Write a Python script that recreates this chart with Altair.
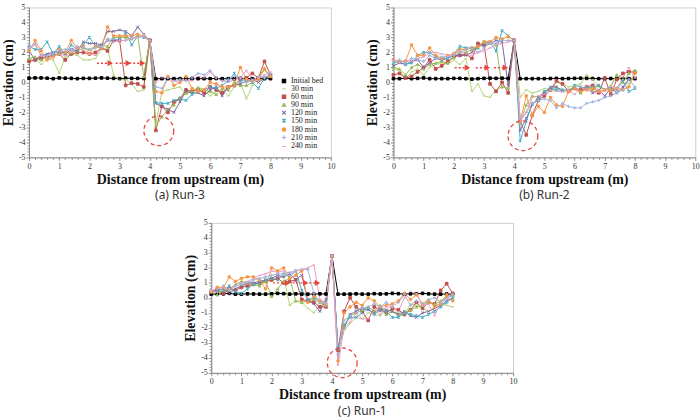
import altair as alt
import pandas as pd

# Survey stations along the flume (m)
STATIONS = [0.0, 0.2, 0.4, 0.6, 0.8, 1.0, 1.2, 1.4, 1.6, 1.8,
            2.0, 2.2, 2.4, 2.6, 2.8, 3.0, 3.2, 3.4, 3.6, 3.8,
            4.0,
            4.2, 4.4, 4.6, 4.8, 5.0, 5.2, 5.4, 5.6, 5.8, 6.0,
            6.2, 6.4, 6.6, 6.8, 7.0, 7.2, 7.4, 7.6, 7.8, 8.0]

SERIES = ["Initial bed", "30 min", "60 min", "90 min", "120 min",
          "150 min", "180 min", "210 min", "240 min"]
COLORS = ["#000000", "#B3D57A", "#C0504D", "#9BBB59", "#8064A2",
          "#4BACC6", "#F79646", "#9FB4DF", "#EC9CC3"]
SHAPES = ["square", "stroke", "square", "triangle-up",
          "M-1,-1L1,1M-1,1L1,-1",
          "M-1,-1L1,1M-1,1L1,-1M0,-1.2L0,1.2",
          "circle", "M-1.2,0L1.2,0M0,-1.2L0,1.2", "stroke"]

# ---- Run-3 bed profiles (cm) ----
RUN3_INIT = [0.28, 0.3, 0.3, 0.28, 0.25, 0.3, 0.28, 0.27, 0.25, 0.27,
             0.27, 0.28, 0.3, 0.28, 0.27, 0.25, 0.28, 0.27, 0.27, 0.26,
             2.8,
             0.25, 0.25, 0.25, 0.25, 0.25, 0.25, 0.26, 0.25, 0.25, 0.25,
             0.26, 0.25, 0.25, 0.25, 0.27, 0.26, 0.25, 0.25, 0.25, 0.25]
RUN3_30 = [1.5, 1.6, 1.2, 1.6, 1.5, 0.6, 1.7, 1.9, 1.8, 1.5,
           1.5, 1.6, 2.2, 2.3, 0.5, 0.15, 0.2, -0.1, -0.6, -0.5,
           2.8,
           -2.8, -0.6, -0.5, -0.4, -0.3, -0.8, -0.6, -0.3, -0.5, -0.9,
           -0.6, -0.5, -0.9, -0.3, 0.0, -1.1, -0.2, 0.4, 0.8, 0.4]
RUN3_60 = [1.4, 1.5, 1.6, 1.7, 1.8, 1.9, 1.5, 1.9, 2.0, 2.0,
           1.9, 2.0, 2.3, 2.1, 2.8, 2.8, -0.2, -0.05, -0.1, -0.3,
           2.8,
           -3.2, -1.6, -2.0, -1.3, -1.1, -0.5, -0.6, -0.5, -0.7, -0.3,
           -0.5, -0.7, -0.3, -0.2, 0.2, 0.3, 0.6, 0.3, 1.4, 0.5]
RUN3_90 = [1.6, 1.7, 1.5, 1.7, 1.8, 1.9, 2.0, 2.0, 2.1, 2.3,
           2.2, 2.4, 2.5, 2.4, 3.0, 3.0, 3.0, 2.9, 3.1, 0.4,
           2.8,
           -2.9, -2.3, -1.8, -1.5, -1.0, -0.7, -0.6, -0.4, -0.5, -0.6,
           -0.8, -0.4, -0.5, 0.0, -0.2, -0.2, 0.0, 0.4, 0.9, 0.4]
RUN3_120 = [2.1, 1.5, 1.8, 1.9, 2.0, 2.1, 1.9, 2.2, 2.1, 2.7,
            2.6, 2.6, 2.5, 3.4, 3.4, 3.5, 3.4, 3.1, 3.7, 3.2,
            2.8,
            -1.4, -1.6, -1.8, -2.0, -1.3, -0.6, -0.7, -0.7, -0.9, -0.5,
            -0.3, -0.9, -0.3, -0.2, -0.1, 0.1, 0.2, 0.0, 0.3, 0.4]
RUN3_150 = [2.4, 2.2, 2.2, 2.7, 1.9, 2.4, 1.9, 2.5, 2.2, 2.5,
            3.0, 2.4, 2.4, 2.8, 2.8, 2.9, 3.3, 2.5, 3.1, 3.0,
            2.8,
            -1.35, -1.4, -1.4, -1.2, -1.1, -1.2, -0.8, -0.6, -0.5, -0.3,
            -0.4, -0.2, 0.1, 0.6, 0.1, 0.2, 0.0, -0.4, 0.3, 0.5]
RUN3_180 = [2.1, 2.8, 2.1, 1.5, 1.7, 2.2, 2.0, 2.8, 2.3, 2.4,
            1.9, 2.4, 2.3, 3.7, 3.1, 3.1, 3.1, 3.1, 3.2, 3.1,
            2.8,
            -0.6, -0.7, 0.4, -0.2, 0.0, 0.4, -0.4, -0.6, -0.5, 0.0,
            -0.1, -0.3, -0.3, -0.2, 1.0, 0.2, 0.1, 0.2, 0.9, 0.4]
RUN3_210 = [2.3, 2.6, 1.8, 1.8, 1.9, 2.1, 2.2, 2.2, 2.4, 2.3,
            2.2, 2.3, 2.4, 2.9, 2.9, 2.8, 2.8, 3.0, 3.0, 3.1,
            2.8,
            -0.3, -0.4, 0.3, 0.1, 0.2, 0.1, 0.3, 0.6, 0.5, 0.8,
            0.3, 0.1, 0.2, 0.4, 0.3, 0.0, 0.1, 0.4, 0.3, 0.6]
RUN3_240 = [2.3, 2.5, 1.8, 1.6, 1.7, 1.9, 1.8, 2.0, 2.3, 2.1,
            1.9, 1.8, 2.3, 2.8, 2.7, 2.8, 2.8, 2.9, 3.0, 3.1,
            2.8,
            0.0, 0.3, 0.3, 0.1, 0.0, 0.2, 0.1, 0.4, 0.3, 0.7,
            0.3, 0.1, 0.0, 0.2, 0.3, 0.8, 0.2, 0.3, 0.5, 0.7]

# ---- Run-2 bed profiles (cm) ----
RUN2_INIT = [0.25, 0.25, 0.28, 0.25, 0.27, 0.3, 0.25, 0.25, 0.25, 0.25,
             0.27, 0.27, 0.25, 0.22, 0.25, 0.27, 0.28, 0.27, 0.28, 0.26,
             2.8,
             0.25, 0.25, 0.25, 0.25, 0.25, 0.26, 0.27, 0.25, 0.26, 0.27,
             0.28, 0.27, 0.26, 0.25, 0.25, 0.26, 0.25, 0.25, 0.25, 0.25]
RUN2_30 = [0.9, 0.8, 0.2, 0.7, 0.9, 0.5, 1.0, 1.2, 1.3, 1.2,
           1.5, 1.2, 1.6, -0.6, -0.1, -0.9, -1.0, -0.5, -0.3, -0.4,
           2.8,
           -1.0, -0.5, -0.7, -0.6, -0.4, -0.5, 0.0, -0.1, -0.3, -0.2,
           -0.1, 0.5, 0.2, -0.3, -0.5, -0.2, 0.5, 0.2, -0.1, 0.7]
RUN2_60 = [0.5, 0.6, 0.3, 0.4, 0.7, 1.0, 1.5, 0.9, 1.1, 1.4,
           1.7, 1.8, 1.9, 1.6, 2.6, 2.5, -0.1, -0.6, 0.0, -0.7,
           2.8,
           -2.6, -3.5, -2.2, -1.2, -0.9, -0.5, 0.1, -0.1, -0.6, -0.4,
           -0.5, -0.3, -0.2, -0.7, 0.3, -0.8, 0.2, 0.6, 0.7, 0.7]
RUN2_90 = [1.0, 0.9, 0.5, 1.0, 1.2, 0.9, 1.2, 1.3, 1.4, 1.3,
           1.7, 2.0, 2.0, 2.2, 2.3, 2.6, 2.7, 2.5, -0.3, -0.4,
           2.8,
           -2.7, -1.5, -0.9, -1.0, -0.6, -0.5, -0.3, -0.5, -0.5, -0.4,
           -0.7, -0.3, -0.5, -0.2, -0.5, -0.3, 0.5, 0.0, 0.6, 0.8]
RUN2_120 = [1.1, 1.3, 1.2, 1.4, 1.5, 1.0, 1.3, 1.6, 1.5, 1.6,
            1.8, 1.8, 1.8, 2.0, 2.5, 2.5, 2.6, 2.8, 2.7, -0.2,
            2.8,
            -3.2, -2.4, -1.5, -1.0, -0.7, -0.3, -0.3, -0.6, -0.5, -0.4,
            -0.6, -0.4, -0.7, -0.5, -0.9, -0.4, -0.7, -0.3, 0.2, 0.3]
RUN2_150 = [1.3, 1.4, 1.2, 1.3, 1.8, 2.0, 2.0, 1.7, 1.6, 1.6,
            1.9, 2.4, 2.3, 2.3, 2.3, 2.7, 2.7, 2.1, 3.45, 3.1,
            2.8,
            -3.9, -2.6, -1.4, -1.2, -0.6, -0.4, -0.5, -0.5, -0.6, -0.2,
            -0.3, -0.4, -0.3, -0.2, -0.5, -0.4, -0.5, 0.1, -0.6, -0.4]
RUN2_180 = [1.5, 1.4, 1.4, 2.5, 1.8, 1.8, 2.3, 1.8, 1.6, 1.8,
            1.9, 2.2, 2.2, 2.3, 2.4, 2.7, 2.7, 3.0, 2.9, 3.05,
            2.8,
            -2.6, -0.9, -2.2, -1.6, -2.0, -1.0, -1.5, -1.6, -0.6, -0.4,
            -0.6, -0.5, -0.4, -0.6, -0.5, -0.5, -0.4, -0.5, -0.3, 0.6]
RUN2_210 = [1.4, 1.5, 1.3, 1.6, 1.5, 1.4, 1.8, 1.6, 1.7, 1.7,
            1.8, 2.0, 2.2, 2.3, 2.0, 2.3, 2.6, 2.6, 2.8, 2.8,
            2.8,
            -2.6, -2.0, -1.4, -1.2, -1.1, -1.2, -1.7, -1.4, -1.6, -1.7,
            -1.7, -1.4, -1.3, -1.2, -1.0, -0.9, -0.7, -0.5, 0.2, -0.3]
RUN2_240 = [1.5, 1.3, 1.5, 1.4, 1.6, 1.7, 2.0, 2.0, 1.9, 1.8,
            1.9, 2.1, 1.9, 1.8, 2.0, 2.1, 2.3, 2.5, 2.6, 2.7,
            2.8,
            -2.5, -2.0, -1.0, -0.9, -0.8, -0.5, -0.6, -0.6, -0.5, -0.8,
            -0.3, -0.5, -0.6, -0.8, -0.5, -0.3, -0.4, 0.3, 1.0, 0.3]

# ---- Run-1 bed profiles (cm) ----
RUN1_INIT = [0.25, 0.25, 0.27, 0.3, 0.25, 0.25, 0.27, 0.26, 0.25, 0.25,
             0.27, 0.3, 0.28, 0.25, 0.27, 0.25, 0.25, 0.25, 0.27, 0.26,
             2.8,
             0.25, 0.25, 0.25, 0.27, 0.25, 0.25, 0.28, 0.26, 0.27, 0.3,
             0.28, 0.25, 0.27, 0.26, 0.3, 0.27, 0.25, 0.25, 0.25, 0.25]
RUN1_30 = [0.4, 0.6, 0.3, 0.5, 0.6, 0.8, 0.9, 1.0, 0.9, 1.2,
           1.1, 1.3, 1.4, -0.5, -0.2, -0.3, -0.7, -1.0, -0.5, -0.4,
           2.8,
           -3.5, -2.2, -1.7, -1.3, -1.4, -1.0, -1.1, -1.2, -0.8, -0.9,
           -1.0, -1.2, -0.4, -0.5, -0.7, -0.9, -0.6, -0.3, -0.5, -0.6]
RUN1_60 = [0.4, 0.5, 0.3, 0.6, 0.5, 0.7, 0.8, 0.9, 1.0, 1.1,
           1.2, 1.3, 1.0, 1.1, 1.2, -0.1, -0.2, -0.3, -0.6, -0.6,
           2.8,
           -3.5, -0.9, 0.0, -0.6, -0.9, -1.5, -0.6, -0.8, -1.0, -0.7,
           -0.8, -1.1, -0.8, -0.3, -0.7, -0.3, -0.4, 0.5, 0.95, 0.3]
RUN1_90 = [0.5, 0.2, 0.5, 0.6, 0.9, 1.1, 1.0, 0.9, 0.8, 1.1,
           0.1, 0.6, 1.1, 1.3, -0.2, -0.3, -0.2, -0.1, -0.3, -0.5,
           2.8,
           -3.4, -1.9, -1.2, -1.0, -0.8, -0.6, -0.9, -0.5, -1.1, -0.9,
           -1.2, -1.0, -0.8, -0.6, -0.5, -0.3, -0.4, -0.2, 0.1, 0.2]
RUN1_120 = [0.4, 0.5, 0.6, 0.3, 0.6, 0.8, 1.0, 1.0, 1.1, 1.2,
            1.3, 1.5, 1.4, 1.6, 1.2, 1.5, -0.2, -0.4, -0.9, -0.1,
            2.8,
            -3.4, -2.0, -1.1, -0.9, -0.7, -0.8, -1.0, -0.7, -0.8, -0.9,
            -1.1, -0.9, -1.2, -1.3, -1.0, -0.9, -0.7, -0.5, -0.2, 0.0]
RUN1_150 = [0.4, 0.6, 0.5, 0.8, 0.4, 0.3, 0.6, 0.9, 1.0, 1.2,
            1.3, 1.2, 1.6, 1.4, 1.8, 0.5, -0.1, 0.0, -0.2, -0.3,
            2.8,
            -3.3, -1.8, -1.3, -1.3, -1.0, -0.7, -1.1, -0.8, -0.9, -1.3,
            -1.3, -1.0, -1.1, -1.2, -1.3, -1.1, -0.9, -0.6, -0.3, 0.0]
RUN1_180 = [0.4, 0.7, 0.7, 1.4, 1.1, 1.3, 1.4, 1.4, 1.2, 0.6,
            2.0, 1.8, 2.0, 1.3, 1.5, 1.8, -0.3, 0.1, -0.2, -0.4,
            2.8,
            -4.2, -1.0, -0.6, -0.3, -0.5, 0.0, -0.2, -0.6, -0.5, -0.4,
            -0.2, 0.3, -0.1, 0.2, -0.4, -0.2, -0.6, -0.4, 0.2, -0.2]
RUN1_210 = [0.5, 0.4, 0.8, 0.5, 0.8, 0.9, 1.0, 1.2, 1.3, 1.4,
            1.5, 1.6, 1.6, 1.7, 1.8, 1.9, 1.9, 0.3, -0.3, -0.4,
            2.8,
            -3.8, -1.5, -1.2, -0.8, -0.7, -0.6, -0.4, -0.6, -0.3, -0.6,
            -0.3, 0.2, -0.5, -0.2, -0.4, -0.1, 0.0, -0.3, -0.1, 0.2]
RUN1_240 = [0.5, 0.6, 0.7, 0.6, 0.8, 1.0, 1.1, 1.3, 1.5, 1.6,
            1.8, 1.7, 1.8, 1.6, 1.8, 1.9, 2.0, 2.2, -0.1, -0.4,
            2.8,
            -4.5, -2.0, -1.6, -1.0, -1.4, -1.4, -0.8, -1.1, -0.6, -0.6,
            -0.9, 0.0, 0.4, 0.3, -0.5, -0.4, -1.2, -0.3, 0.0, 0.3]

# Scour-hole ring (centre x, centre elevation) and front-migration arrows
RUN3_RING = (4.3, -3.23)
RUN2_RING = (4.29, -3.56)
RUN1_RING = (4.34, -4.33)
RUN3_ARROWS = {"start": [2.25, 2.87, 3.32], "end": [2.69, 3.29, 3.76], "elev": 1.28}
RUN2_ARROWS = {"start": [2.03, 2.73, 3.33], "end": [2.45, 3.11, 3.71], "elev": 0.98}
RUN1_ARROWS = {"start": [2.05, 2.69, 3.24], "end": [2.53, 3.13, 3.52], "elev": 1.0}

MINOR_TICKS = [round(i * 0.2, 1) for i in range(51)]
MINOR_TICKS_Y = [round(-5 + i * 0.2, 1) for i in range(51)]
IS_MAJOR = "abs(datum.value - round(datum.value)) < 0.001"
SERIF = "Liberation Serif"
ANNOT_RED = "#E8453F"


def axis_x():
    return alt.Axis(values=MINOR_TICKS, labelExpr=f"{IS_MAJOR} ? round(datum.value) + '' : ''",
                    tickSize={"condition": {"test": IS_MAJOR, "value": 3}, "value": 2},
                    labelFont=SERIF, labelFontSize=8, labelColor="#333", labelPadding=2,
                    labelFlush=False, labelOverlap=False,
                    domainColor="#8a8a8a", tickColor="#8a8a8a", grid=False,
                    title="Distance from upstream (m)", titleFont=SERIF, titleFontSize=14,
                    titleFontWeight="bold", titleColor="#111", titlePadding=2)


def axis_y():
    return alt.Axis(values=MINOR_TICKS_Y, labelExpr=f"{IS_MAJOR} ? round(datum.value) + '' : ''",
                    tickSize={"condition": {"test": IS_MAJOR, "value": 3}, "value": 2},
                    labelFont=SERIF, labelFontSize=8, labelColor="#333", labelPadding=1,
                    labelFlush=False, labelOverlap=False,
                    domainColor="#8a8a8a", tickColor="#8a8a8a", grid=False,
                    title="Elevation (cm)", titleFont=SERIF, titleFontSize=14,
                    titleFontWeight="bold", titleColor="#111", titlePadding=3)


def make_panel(profiles, caption, ring, arrows):
    rows = []
    for name, vals in zip(SERIES, profiles):
        for x, v in zip(STATIONS, vals):
            rows.append({"x": x, "elev": v, "series": name})
    df = pd.DataFrame(rows)

    x_enc = alt.X("x:Q", scale=alt.Scale(domain=[0, 10], nice=False), axis=axis_x())
    y_enc = alt.Y("elev:Q", scale=alt.Scale(domain=[-5, 5], nice=False), axis=axis_y())
    legend = alt.Legend(orient="none", legendX=253, legendY=70, labelFont=SERIF,
                        labelFontSize=8, labelColor="#222", rowPadding=-1,
                        symbolSize=12, symbolStrokeWidth=1.1, labelOffset=3)
    series_scale = alt.Scale(domain=SERIES, range=COLORS)
    stroke = alt.Stroke("series:N", scale=series_scale, legend=legend, title=None)
    fill = alt.Fill("series:N", scale=series_scale, legend=None)
    shape = alt.Shape("series:N", scale=alt.Scale(domain=SERIES, range=SHAPES),
                      legend=legend, title=None)

    base = alt.Chart(df)
    lines = base.mark_line(strokeWidth=1).encode(x=x_enc, y=y_enc, stroke=stroke)
    points = base.mark_point(size=7, strokeWidth=1, opacity=1, fillOpacity=1).encode(
        x=x_enc, y=y_enc, stroke=stroke, fill=fill, shape=shape)

    ring_df = pd.DataFrame({"x": [ring[0]], "elev": [ring[1]]})
    ring_layer = alt.Chart(ring_df).mark_point(
        shape="circle", size=900, filled=False, stroke=ANNOT_RED, strokeWidth=1.3,
        strokeDash=[4, 3], opacity=1).encode(x=x_enc, y=y_enc)

    arr_df = pd.DataFrame({"x": arrows["start"], "x_end": arrows["end"],
                           "elev": [arrows["elev"]] * len(arrows["start"])})
    shafts = alt.Chart(arr_df).mark_rule(color=ANNOT_RED, strokeWidth=1.5,
                                         strokeDash=[2, 2]).encode(x=x_enc, x2="x_end:Q", y=y_enc)
    heads = alt.Chart(arr_df).mark_point(shape="triangle-right", filled=True, size=40,
                                         color=ANNOT_RED, opacity=1).encode(
        x=alt.X("x_end:Q", scale=alt.Scale(domain=[0, 10], nice=False), axis=axis_x()), y=y_enc)

    return alt.layer(lines, points, ring_layer, shafts, heads).properties(
        width=304, height=151,
        title=alt.TitleParams(caption, orient="bottom", font="Noto Sans", fontSize=12,
                              fontWeight="normal", color="#333", offset=4, anchor="middle"))


panel_a = make_panel([RUN3_INIT, RUN3_30, RUN3_60, RUN3_90, RUN3_120, RUN3_150,
                      RUN3_180, RUN3_210, RUN3_240], "(a) Run-3", RUN3_RING, RUN3_ARROWS)
panel_b = make_panel([RUN2_INIT, RUN2_30, RUN2_60, RUN2_90, RUN2_120, RUN2_150,
                      RUN2_180, RUN2_210, RUN2_240], "(b) Run-2", RUN2_RING, RUN2_ARROWS)
panel_c = make_panel([RUN1_INIT, RUN1_30, RUN1_60, RUN1_90, RUN1_120, RUN1_150,
                      RUN1_180, RUN1_210, RUN1_240], "(c) Run-1", RUN1_RING, RUN1_ARROWS)

chart = alt.vconcat(
    alt.hconcat(panel_a, panel_b, spacing=29),
    panel_c,
    spacing=16, center=True,
).properties(
    padding={"left": 1, "top": 1, "right": 0, "bottom": 0},
    background="white",
).configure_view(stroke="#cfcfcf", strokeWidth=1)

chart.save("out.html", embed_options={"renderer": "svg", "actions": False})
